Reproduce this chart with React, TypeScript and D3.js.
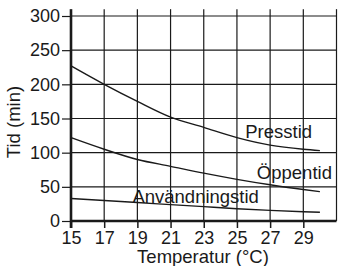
import { useRef, useEffect } from 'react';
import * as d3 from 'd3';

const temps = [15, 17, 19, 21, 23, 25, 27, 29, 30];
const presstid = [227, 200, 175, 152, 137, 122, 111, 105, 103];
const oppentid = [122, 105, 90, 80, 70, 61, 53, 46, 43];
const anvandningstid = [33, 30, 27, 24, 21, 18, 15.5, 13.5, 12.7];

const xTicks = [15, 17, 19, 21, 23, 25, 27, 29];
const xGrid = [17, 19, 21, 23, 25, 27, 29, 31];
const yTicks = [0, 50, 100, 150, 200, 250, 300];

const seriesLabels = [
  { name: 'Presstid', values: presstid, at: [25.5, 122] },
  { name: 'Öppentid', values: oppentid, at: [26.2, 62] },
  { name: 'Användningstid', values: anvandningstid, at: [18.7, 26] },
];

export default function App() {
  const ref = useRef<SVGSVGElement>(null);

  useEffect(() => {
    if (!ref.current) return;
    const width = 339;
    const height = 266;
    const svg = d3.select(ref.current);
    svg.selectAll('*').remove();

    const x = d3.scaleLinear().domain([15, 31]).range([71, 336.5]);
    const y = d3.scaleLinear().domain([0, 300]).range([221, 16]);
    const font = 'Liberation Sans, Arial, sans-serif';
    const ink = '#1a1a1a';

    // grid
    svg.append('g')
      .selectAll('line')
      .data(xGrid)
      .join('line')
      .attr('x1', d => x(d)).attr('x2', d => x(d))
      .attr('y1', y(310)).attr('y2', y(0))
      .attr('stroke', ink).attr('stroke-width', 1.2);

    svg.append('g')
      .selectAll('line')
      .data(yTicks.filter(d => d > 0))
      .join('line')
      .attr('x1', x(15)).attr('x2', x(31))
      .attr('y1', d => y(d)).attr('y2', d => y(d))
      .attr('stroke', ink).attr('stroke-width', 1.2);

    // x axis
    const gx = svg.append('g')
      .attr('transform', `translate(0,${y(0)})`)
      .call(d3.axisBottom(x).tickValues(xTicks).tickSize(7).tickPadding(3).tickFormat(d3.format('d')));
    gx.select('.domain').remove();
    gx.selectAll('line').attr('stroke', ink).attr('stroke-width', 1.5);
    gx.selectAll('text').attr('font-size', 18).attr('font-family', font).attr('fill', ink);
    svg.append('line')
      .attr('x1', x(15) - 1).attr('x2', x(31))
      .attr('y1', y(0)).attr('y2', y(0))
      .attr('stroke', ink).attr('stroke-width', 2.6);

    // y axis
    const gy = svg.append('g')
      .attr('transform', `translate(${x(15)},0)`)
      .call(d3.axisLeft(y).tickValues(yTicks).tickSize(9).tickPadding(2));
    gy.select('.domain').remove();
    gy.selectAll('line').attr('stroke', ink).attr('stroke-width', 1.2);
    gy.selectAll('text').attr('font-size', 18).attr('font-family', font).attr('fill', ink);
    svg.append('line')
      .attr('x1', x(15)).attr('x2', x(15))
      .attr('y1', y(310)).attr('y2', y(0) + 7)
      .attr('stroke', ink).attr('stroke-width', 2.6);

    // curves
    const line = d3.line<number>()
      .x((_, i) => x(temps[i]))
      .y(d => y(d))
      .curve(d3.curveMonotoneX);

    seriesLabels.forEach(s => {
      svg.append('path')
        .datum(s.values)
        .attr('fill', 'none')
        .attr('stroke', ink)
        .attr('stroke-width', 1.4)
        .attr('d', line);
      svg.append('text')
        .attr('x', x(s.at[0]))
        .attr('y', y(s.at[1]))
        .attr('font-size', 18.5)
        .attr('font-family', font)
        .attr('fill', ink)
        .text(s.name);
    });

    // axis titles
    svg.append('text')
      .attr('x', 203).attr('y', 263)
      .attr('text-anchor', 'middle')
      .attr('font-size', 18.5).attr('font-family', font).attr('fill', ink)
      .text('Temperatur (°C)');

    svg.append('text')
      .attr('transform', `translate(20,122) rotate(-90)`)
      .attr('text-anchor', 'middle')
      .attr('font-size', 18.5).attr('font-family', font).attr('fill', ink)
      .text('Tid (min)');

    svg.attr('width', width).attr('height', height);
  }, []);

  return (
    <svg
      ref={ref}
      width={339}
      height={266}
      style={{ position: 'absolute', left: 0, top: 0, background: '#fff' }}
    />
  );
}
